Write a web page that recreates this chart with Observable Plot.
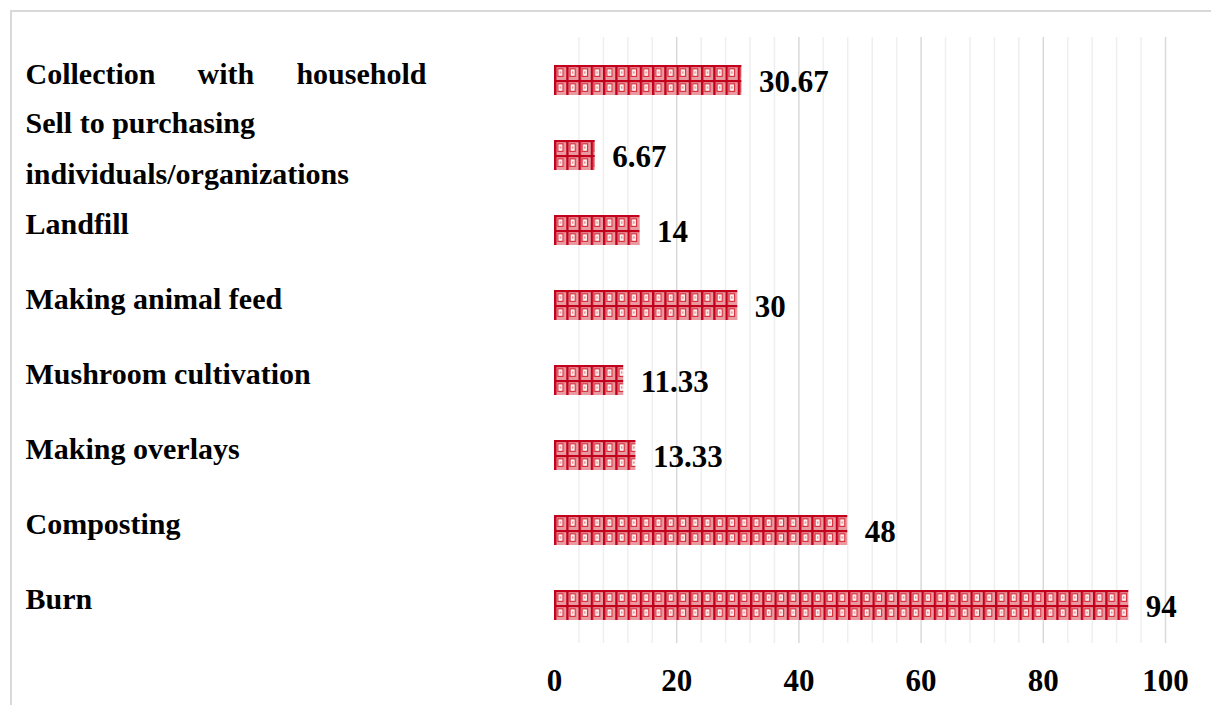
<!DOCTYPE html>
<html>
<head>
<meta charset="utf-8">
<script src="https://cdn.jsdelivr.net/npm/d3@7"></script>
<script src="https://cdn.jsdelivr.net/npm/@observablehq/plot@0.6"></script>
<style>
  html, body { margin: 0; padding: 0; background: #fff; }
  #wrap { position: relative; width: 1211px; height: 705px; overflow: hidden; }
  #frame { position: absolute; left: 10px; top: 10px; width: 1220px; height: 720px;
           border-left: 2px solid #d9d9d9; border-top: 2px solid #d9d9d9; }
  #chart { position: absolute; left: 0; top: 0; }
</style>
</head>
<body>
<div id="wrap"><div id="frame"></div><div id="chart"></div></div>
<script>
const categories = [
  "Collection with household",
  "Sell to purchasing\nindividuals/organizations",
  "Landfill",
  "Making animal feed",
  "Mushroom cultivation",
  "Making overlays",
  "Composting",
  "Burn"
];
const values = [30.67, 6.67, 14, 30, 11.33, 13.33, 48, 94];
const xTicks = [0, 20, 40, 60, 80, 100];
const majorGrid = [20, 40, 60, 80, 100];
const minorGrid = [4, 8, 12, 16, 24, 28, 32, 36, 44, 48, 52, 56, 64, 68, 72, 76, 84, 88, 92, 96];

const data = categories.map((c, i) => ({cat: c, value: values[i], label: String(values[i])}));

const font = "'Liberation Serif', 'Times New Roman', serif";

const chart = Plot.plot({
  width: 1211,
  height: 705,
  marginLeft: 554,
  marginRight: 46,
  marginTop: 25,
  marginBottom: 46,
  style: {fontFamily: font, fontWeight: "bold", color: "#000", background: "transparent"},
  x: {domain: [0, 100], axis: null},
  y: {domain: categories, axis: null, paddingInner: 0.6, paddingOuter: 0.5},
  marks: [
    Plot.ruleX(minorGrid, {stroke: "#efefef", strokeWidth: 1.5, insetTop: 12, insetBottom: 16}),
    Plot.ruleX(majorGrid, {stroke: "#d9d9d9", strokeWidth: 1.5, insetTop: 12, insetBottom: 16}),
    Plot.barX(data, {y: "cat", x: "value", fill: "url(#plaid)"}),
    Plot.text(data, {y: "cat", x: "value", text: "label", textAnchor: "start", dx: 17, dy: 2,
                     fontSize: 31, fontWeight: "bold", fill: "#000"}),
    Plot.text(data, {y: "cat", text: "cat", frameAnchor: "left", textAnchor: "start", dx: -529, dy: -13,
                     fontSize: 30, fontWeight: "bold", fill: "#000", lineHeight: 1.7,
                     className: "catlabel"}),
    Plot.axisX(xTicks, {anchor: "bottom", tickSize: 0, tickPadding: 9, fontSize: 31,
                        fontWeight: "bold", fill: "#000", label: null, tickFormat: d => String(d)})
  ]
});

// Define the plaid fill pattern used by the bars
const svg = d3.select(chart);
const yScale = chart.scale("y");
const tileH = yScale.bandwidth / 2;
const tileW = 12.25;
const firstTop = yScale.apply(categories[0]);
const xStart = chart.scale("x").apply(0);
const defs = svg.insert("defs", ":first-child");
const pat = defs.append("pattern")
  .attr("id", "plaid")
  .attr("patternUnits", "userSpaceOnUse")
  .attr("x", xStart).attr("y", firstTop)
  .attr("width", tileW).attr("height", tileH);
pat.append("rect").attr("width", tileW).attr("height", tileH).attr("fill", "#e99aa0");
pat.append("rect").attr("x", 0).attr("y", 0).attr("width", 2.4).attr("height", tileH).attr("fill", "#c3001c");
pat.append("rect").attr("x", 0).attr("y", 0).attr("width", tileW).attr("height", 2.2).attr("fill", "#c3001c");
pat.append("rect").attr("x", 3.8).attr("y", 3.8).attr("width", 5.2).attr("height", tileH - 7.4)
  .attr("fill", "#fff4f4").attr("stroke", "#d8323f").attr("stroke-width", 1.2);
pat.append("rect").attr("x", 5.7).attr("y", tileH / 2 - 1.2).attr("width", 1.4).attr("height", 2.4).attr("fill", "#e7868c");

document.getElementById("chart").appendChild(chart);

// Justify the first category label across its width (word spacing), as in the original
svg.selectAll(".catlabel text").each(function() {
  if (this.textContent === "Collection with household") {
    const natural = this.getComputedTextLength();
    const extra = Math.max(0, (401 - natural) / 2);
    d3.select(this).style("word-spacing", extra + "px");
  }
});
</script>
</body>
</html>
